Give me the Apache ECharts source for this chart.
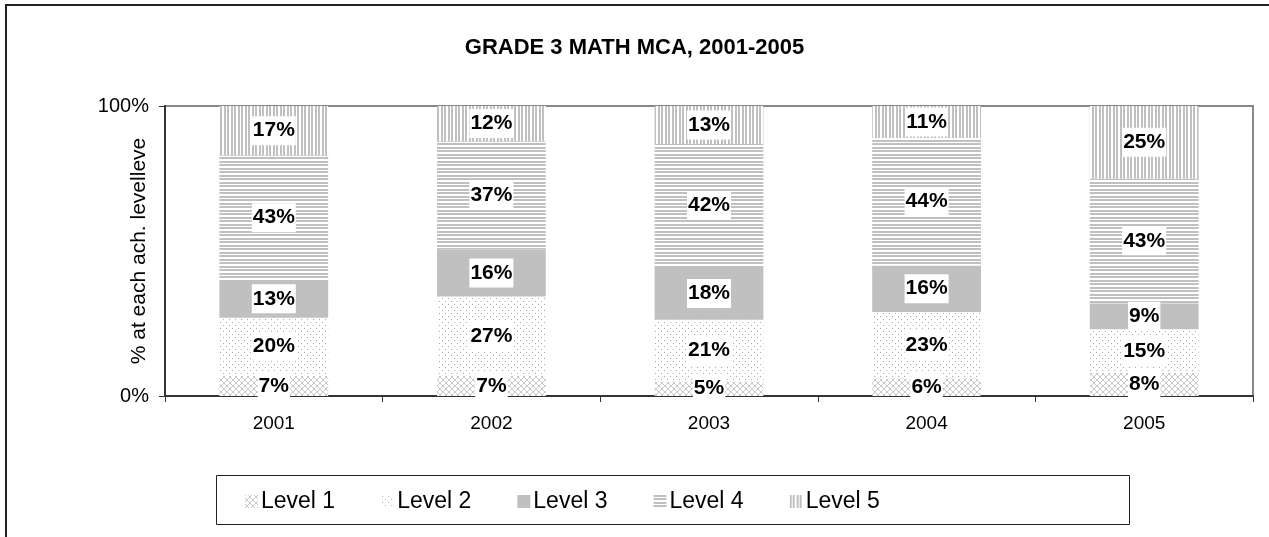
<!DOCTYPE html>
<html>
<head>
<meta charset="utf-8">
<script src="https://cdn.jsdelivr.net/npm/echarts@6/dist/echarts.min.js"></script>
<style>
  html, body { margin: 0; padding: 0; background: #fff; }
  #chart { width: 1269px; height: 537px; }
</style>
</head>
<body>
<div id="chart"></div>
<script>
// data
const years = ["2001", "2002", "2003", "2004", "2005"]
const levelNames = ["Level 1", "Level 2", "Level 3", "Level 4", "Level 5"]
const level1 = [7, 7, 5, 6, 8]
const level2 = [20, 27, 21, 23, 15]
const level3 = [13, 16, 18, 16, 9]
const level4 = [43, 37, 42, 44, 43]
const level5 = [17, 12, 13, 11, 25]
const yTicks = ["0%", "100%"]

const levels = [level1, level2, level3, level4, level5]
// 100% stacked: each column is scaled to its own total
const totals = years.map((_, i) => levels.reduce((s, l) => s + l[i], 0))

const GRAY = "#c0c0c0"

function makeTile(w, h, draw) {
  const c = document.createElement("canvas")
  c.width = w
  c.height = h
  const ctx = c.getContext("2d")
  ctx.fillStyle = "#fff"
  ctx.fillRect(0, 0, w, h)
  draw(ctx)
  return { image: c, repeat: "repeat" }
}

const fills = [
  // level 1: small zigzag crosshatch
  makeTile(6, 6, ctx => {
    ctx.fillStyle = "#c8c8c8"
    for (let i = 0; i < 6; i++) {
      ctx.fillRect(i, (6 - i) % 6, 1, 1)
      ctx.fillRect(i, (i + 3) % 6, 1, 1)
    }
  }),
  // level 2: sparse dots
  makeTile(6, 6, ctx => {
    ctx.fillStyle = "#a8a8a8"
    ctx.fillRect(1, 1, 1, 1)
    ctx.fillRect(4, 4, 1, 1)
  }),
  // level 3: solid gray
  GRAY,
  // level 4: horizontal stripes
  makeTile(4, 7, ctx => {
    ctx.fillStyle = GRAY
    ctx.fillRect(0, 0, 4, 2)
    ctx.fillRect(0, 3, 4, 2)
  }),
  // level 5: vertical stripes
  makeTile(7, 4, ctx => {
    ctx.fillStyle = GRAY
    ctx.fillRect(0, 0, 2, 4)
    ctx.fillRect(3, 0, 2, 4)
  })
]

const chart = echarts.init(document.getElementById("chart"))

chart.setOption({
  animation: false,
  textStyle: { fontFamily: "Liberation Sans, Arial, sans-serif" },
  title: {
    text: "GRADE 3 MATH MCA, 2001-2005",
    left: "center",
    top: 32,
    textStyle: { fontSize: 22, fontWeight: "bold", color: "#000" }
  },
  graphic: [
    {
      type: "rect",
      shape: { x: 6, y: 5, width: 1300, height: 600 },
      style: { fill: null, stroke: "#222", lineWidth: 2 },
      silent: true
    },
    {
      type: "rect",
      shape: { x: 216.5, y: 475.5, width: 913, height: 49 },
      style: { fill: null, stroke: "#222", lineWidth: 1 },
      silent: true
    }
  ],
  legend: {
    data: levelNames,
    left: 240,
    top: 485,
    itemWidth: 13,
    itemHeight: 13,
    itemGap: 46,
    icon: "rect",
    textStyle: { fontSize: 23, color: "#000", padding: [0, 0, 0, -2] }
  },
  grid: {
    left: 165,
    right: 16,
    top: 106,
    bottom: 141,
    show: true,
    borderColor: "#888",
    borderWidth: 2
  },
  xAxis: {
    type: "category",
    data: years,
    axisLine: { lineStyle: { color: "#333", width: 2 } },
    axisTick: { show: true, length: 6, lineStyle: { color: "#333" } },
    axisLabel: { fontSize: 19, color: "#000", margin: 18 }
  },
  yAxis: {
    type: "value",
    min: 0,
    max: 100,
    interval: 100,
    name: "% at each ach. levelleve",
    nameLocation: "middle",
    nameRotate: 90,
    nameGap: 15,
    nameMoveOverlap: false,
    nameTextStyle: { fontSize: 21, color: "#000" },
    axisLine: { show: true, lineStyle: { color: "#333", width: 2 } },
    axisTick: { show: true, length: 6, lineStyle: { color: "#333" } },
    splitLine: { show: false },
    axisLabel: {
      fontSize: 20,
      color: "#000",
      margin: 16,
      formatter: v => yTicks[v === 0 ? 0 : 1]
    }
  },
  series: levels.map((vals, k) => ({
    name: levelNames[k],
    type: "bar",
    stack: "all",
    barWidth: "50%",
    data: vals.map((v, i) => v * 100 / totals[i]),
    itemStyle: { color: fills[k] },
    label: {
      show: true,
      position: "inside",
      formatter: p => vals[p.dataIndex] + "%",
      fontSize: 21,
      fontWeight: "bold",
      color: "#000",
      backgroundColor: "#fff",
      padding: [5, 1, 3, 1]
    }
  }))
})
</script>
</body>
</html>
